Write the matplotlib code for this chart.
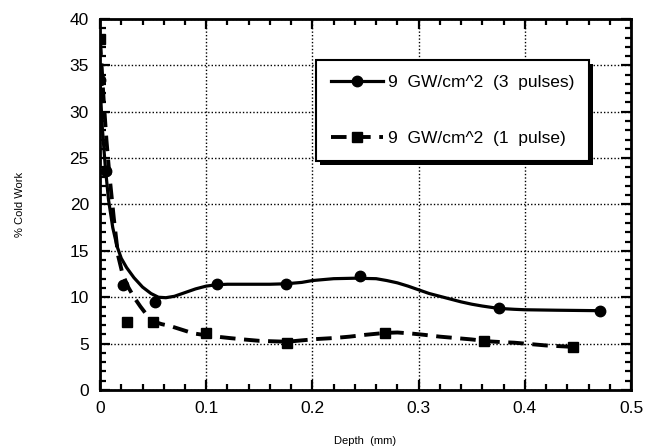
import matplotlib
matplotlib.use("Agg")
import matplotlib.pyplot as plt
from matplotlib.lines import Line2D
from matplotlib.patches import Rectangle
from matplotlib.ticker import MultipleLocator

plt.rcParams['font.family'] = ['Liberation Sans', 'DejaVu Sans']

# measured points
depth_3p = [0.0, 0.006, 0.022, 0.052, 0.11, 0.175, 0.245, 0.376, 0.471]
cw_3p = [33.4, 23.6, 11.3, 9.5, 11.4, 11.4, 12.3, 8.8, 8.5]
depth_1p = [0.0, 0.025, 0.05, 0.1, 0.176, 0.268, 0.362, 0.445]
cw_1p = [37.8, 7.3, 7.3, 6.1, 5.1, 6.1, 5.3, 4.65]

# smoothed curves through each series
curve_x_3p = [0.0, 0.002, 0.005, 0.008, 0.012, 0.016, 0.02, 0.025, 0.032, 0.04,
              0.048, 0.055, 0.062, 0.07, 0.08, 0.09, 0.1, 0.11, 0.12, 0.14,
              0.16, 0.175, 0.19, 0.2, 0.21, 0.22, 0.24, 0.26, 0.27, 0.28,
              0.29, 0.3, 0.31, 0.32, 0.33, 0.34, 0.35, 0.36, 0.375, 0.39,
              0.4, 0.43, 0.47]
curve_y_3p = [33.0, 28.5, 24.0, 20.5, 17.5, 15.5, 14.2, 13.2, 12.1, 11.1,
              10.4, 10.0, 9.95, 10.1, 10.5, 10.9, 11.2, 11.35, 11.4, 11.4,
              11.4, 11.45, 11.6, 11.8, 11.9, 12.0, 12.05, 12.0, 11.8, 11.55,
              11.2, 10.8, 10.4, 10.1, 9.8, 9.5, 9.25, 9.05, 8.8, 8.7,
              8.65, 8.6, 8.55]
curve_x_1p = [0.0, 0.003, 0.006, 0.009, 0.013, 0.017, 0.021, 0.026, 0.032, 0.038,
              0.044, 0.05, 0.058, 0.066, 0.077, 0.088, 0.1, 0.11, 0.122, 0.135,
              0.15, 0.176, 0.19, 0.205, 0.22, 0.235, 0.25, 0.268, 0.28, 0.292,
              0.305, 0.32, 0.335, 0.35, 0.365, 0.38, 0.39, 0.405, 0.42, 0.445]
curve_y_1p = [37.8, 32.0, 27.0, 23.0, 18.5, 14.5, 12.6, 11.2, 10.0, 9.0,
              8.1, 7.4, 7.1, 6.9, 6.5, 6.1, 5.9, 5.75, 5.6, 5.45,
              5.3, 5.2, 5.35, 5.5, 5.6, 5.75, 5.95, 6.15, 6.2, 6.1,
              5.95, 5.75, 5.6, 5.45, 5.25, 5.15, 5.1, 4.95, 4.8, 4.65]

labels = ['9  GW/cm^2  (3  pulses)', '9  GW/cm^2  (1  pulse)']

fig = plt.figure(figsize=(6.47, 4.48), dpi=100)
ax = fig.add_axes([0.1546, 0.1295, 0.8207, 0.8281])

ax.plot(curve_x_3p, curve_y_3p, color='black', lw=2.3, solid_capstyle='round', zorder=3)
ax.plot(depth_3p, cw_3p, 'o', color='black', ms=7.5, zorder=4)
ax.plot(curve_x_1p, curve_y_1p, color='black', lw=2.8, dashes=(4, 2.2), zorder=3)
ax.plot(depth_1p, cw_1p, 's', color='black', ms=7.5, zorder=4)

ax.set_xlim(0, 0.5)
ax.set_ylim(0, 40)
ax.xaxis.set_major_locator(MultipleLocator(0.1))
ax.xaxis.set_minor_locator(MultipleLocator(0.02))
ax.yaxis.set_major_locator(MultipleLocator(5))
ax.yaxis.set_minor_locator(MultipleLocator(1))
ax.set_xticks([0, 0.1, 0.2, 0.3, 0.4, 0.5])
ax.set_xticklabels(['0', '0.1', '0.2', '0.3', '0.4', '0.5'])
ax.tick_params(which='both', direction='in', top=True, right=True, width=1.6,
               labelsize=12.5, pad=8)
ax.tick_params(which='major', length=7)
ax.tick_params(which='minor', length=4)
ax.grid(True, which='major', color='black', linestyle=(0, (1, 1.5)), lw=1.0)
for s in ax.spines.values():
    s.set_linewidth(2.0)

ax.set_xlabel('Depth  (mm)', fontsize=8, labelpad=14)
ax.set_ylabel('% Cold Work', fontsize=8, labelpad=32)

handles = [
    Line2D([], [], color='black', lw=2.3, marker='o', ms=7.5),
    Line2D([], [], color='black', lw=2.8, dashes=(4, 2.2), marker='s', ms=7.5),
]
leg = ax.legend(handles, labels, loc='upper left', bbox_to_anchor=(0.407, 0.889),
                fontsize=12.5, frameon=True, fancybox=False, handlelength=3.0,
                handletextpad=0.3, labelspacing=2.35, borderpad=0.85,
                borderaxespad=0, framealpha=1)
leg.get_frame().set_edgecolor('black')
leg.get_frame().set_linewidth(1.5)
leg.set_zorder(6)

# black drop shadow behind the legend box
fig.canvas.draw()
bb = leg.get_window_extent().transformed(ax.transAxes.inverted())
dx, dy = 4 / ax.bbox.width, 4 / ax.bbox.height
ax.add_patch(Rectangle((bb.x0 + dx, bb.y0 - dy), bb.width, bb.height,
                       transform=ax.transAxes, facecolor='black',
                       edgecolor='none', zorder=5))

fig.savefig('out.png', dpi=100)
